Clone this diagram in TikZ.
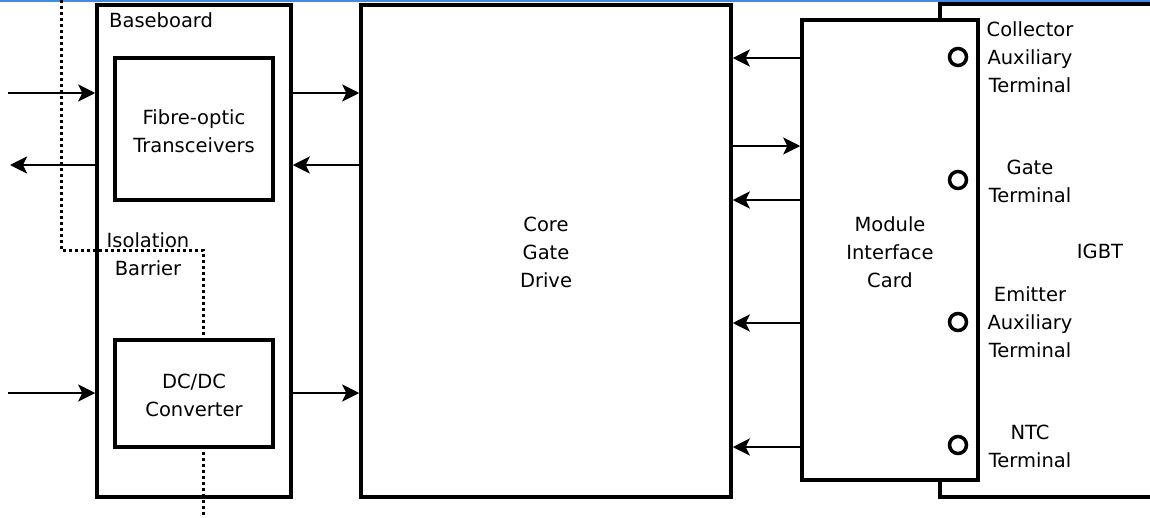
\documentclass[tikz,border=0pt]{standalone}
\usepackage{fontspec}
\setmainfont{DejaVu Sans}
\usepackage{tikz}
\usetikzlibrary{arrows.meta,positioning,calc}
\usepackage{xcolor}
\definecolor{edgeblue}{RGB}{66,139,224}

\begin{document}
\begin{tikzpicture}[x=1pt, y=-1pt,
    box/.style={draw, line width=3.5pt, rectangle, inner sep=0pt},
    sig/.style={-{Stealth[length=17pt,width=17pt,inset=4pt]}, line width=2.5pt},
    lbl/.style={font=\fontsize{19.5}{28}\selectfont, align=center, inner sep=0pt},
    term/.style={draw, circle, line width=3.5pt, minimum size=17pt, inner sep=0pt}]
\useasboundingbox (0,0) rectangle (1150,517);
\clip (0,0) rectangle (1150,517);
\fill[edgeblue] (0,0) rectangle (1150,1.5);
\begin{scope}
    % baseboard and isolation barrier
    \node[box, minimum width=194pt, minimum height=492pt] (baseboard) at (194,251) {};
    \node[lbl, anchor=west] (basetxt) at (109,20) {Baseboard};
    \draw[line width=3pt, dash pattern=on 3pt off 3pt] (61,0) -- (61,250) -- (203,250) -- (203,517);
    \node[lbl] (isotxt) at (148,254) {Isolation\\Barrier};
    \node[box, fill=white, minimum width=158pt, minimum height=142pt] (fibre) at (194,129) {};
    \node[lbl] at (194,131) {Fibre-optic\\Transceivers};
    \node[box, fill=white, minimum width=158pt, minimum height=107pt] (dcdc) at (194,393.5) {};
    \node[lbl] at (194,395) {DC/DC\\Converter};

    % core, igbt, interface card
    \node[box, minimum width=370pt, minimum height=492pt] (core) at (546,251) {};
    \node[lbl] at (546,252) {Core\\Gate\\Drive};
    \node[box, minimum width=240pt, minimum height=493pt] (igbt) at (1060,250.5) {};
    \node[lbl] at (1100,251) {IGBT};
    \node[box, fill=white, minimum width=176pt, minimum height=460pt] (mic) at (890,250) {};
    \node[lbl] at (890,252) {Module\\Interface\\Card};

    % terminals
    \foreach \n/\y in {coll/57,gate/180,emit/322,ntc/445}{
        \node[term] (\n) at (958,\y) {};
    }
    \node[lbl] at (1030,57) {Collector\\Auxiliary\\Terminal};
    \node[lbl] at (1030,181) {Gate\\Terminal};
    \node[lbl] at (1030,322) {Emitter\\Auxiliary\\Terminal};
    \node[lbl] at (1030,446) {NTC\\Terminal};

    % signals
    \coordinate (optin) at (8,93);
    \coordinate (optout) at (10,165);
    \coordinate (pwrin) at (8,393);
    \draw[sig] (optin) -- (optin -| baseboard.west);
    \draw[sig] (baseboard.west |- optout) -- (optout);
    \draw[sig] (pwrin) -- (pwrin -| baseboard.west);
    \draw[sig] (baseboard.east |- optin) -- (core.west |- optin);
    \draw[sig] (core.west |- optout) -- (baseboard.east |- optout);
    \draw[sig] (baseboard.east |- pwrin) -- (core.west |- pwrin);
    \foreach \y in {58,200,323,447}{
        \draw[sig] (mic.west |- 0,\y) -- (core.east |- 0,\y);
    }
    \draw[sig] (core.east |- 0,146) -- (mic.west |- 0,146);
\end{scope}
\end{tikzpicture}
\end{document}
